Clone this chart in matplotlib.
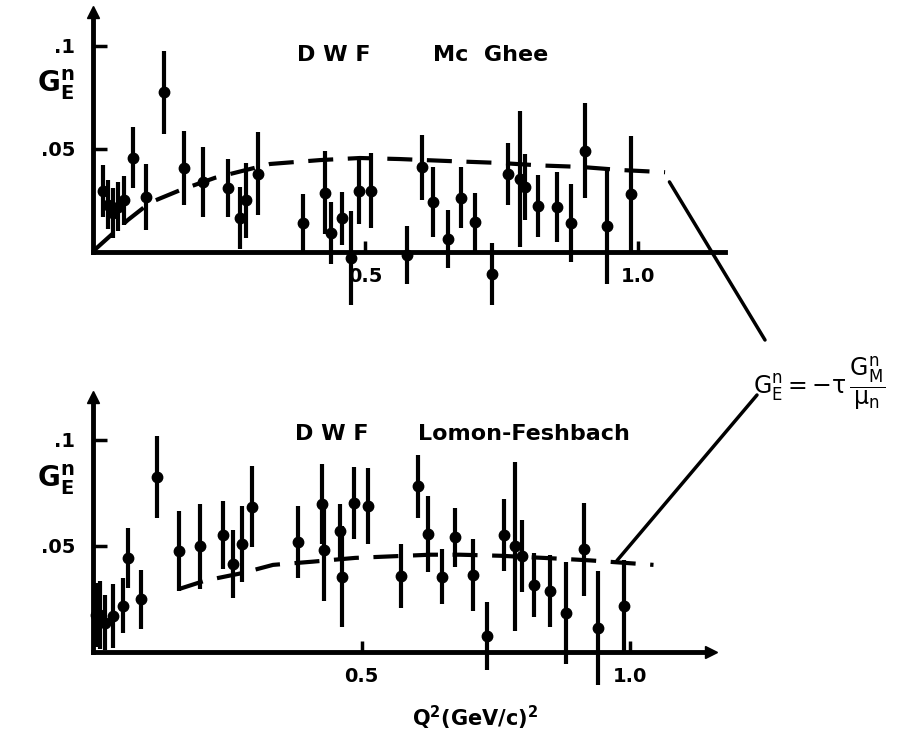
import matplotlib.pyplot as plt
from matplotlib.patches import ConnectionPatch

# DWF - Mc Ghee panel (Q^2, G_E^n, error)
mc_q = [0.019, 0.028, 0.037, 0.046, 0.057, 0.073, 0.098, 0.131, 0.167, 0.202,
        0.248, 0.269, 0.281, 0.302, 0.386, 0.426, 0.437, 0.457, 0.473, 0.488,
        0.510, 0.576, 0.603, 0.624, 0.652, 0.675, 0.702, 0.733, 0.762, 0.783,
        0.793, 0.817, 0.851, 0.878, 0.903, 0.943, 0.987]
mc_g = [0.0296, 0.023, 0.019, 0.022, 0.025, 0.0458, 0.0268, 0.0775, 0.0406, 0.034,
        0.031, 0.0164, 0.025, 0.038, 0.0142, 0.0288, 0.009, 0.0163, -0.003, 0.0298,
        0.0298, -0.0015, 0.041, 0.0244, 0.0062, 0.0264, 0.0144, -0.0108, 0.0377, 0.0353,
        0.0317, 0.0223, 0.022, 0.0142, 0.0492, 0.0126, 0.0282]
mc_err = [0.0125, 0.012, 0.012, 0.012, 0.012, 0.015, 0.016, 0.020, 0.018, 0.017,
          0.014, 0.015, 0.018, 0.020, 0.014, 0.020, 0.015, 0.013, 0.023, 0.016,
          0.018, 0.014, 0.016, 0.017, 0.014, 0.015, 0.014, 0.015, 0.015, 0.033,
          0.016, 0.015, 0.017, 0.019, 0.023, 0.028, 0.028]
mc_curve_q = [0.003, 0.064, 0.105, 0.160, 0.224, 0.325, 0.417, 0.490, 0.563,
              0.655, 0.747, 0.820, 0.894, 0.967, 1.050]
mc_curve_g = [0.001, 0.0155, 0.024, 0.030, 0.036, 0.0427, 0.0446, 0.0456, 0.0451,
              0.0441, 0.0432, 0.042, 0.0413, 0.0398, 0.0387]

# DWF - Lomon-Feshbach panel
lf_q = [0.005, 0.013, 0.022, 0.038, 0.055, 0.066, 0.089, 0.120, 0.160, 0.199,
        0.241, 0.261, 0.277, 0.296, 0.381, 0.427, 0.430, 0.459, 0.464, 0.485,
        0.512, 0.573, 0.604, 0.623, 0.650, 0.674, 0.708, 0.733, 0.764, 0.785,
        0.799, 0.820, 0.850, 0.880, 0.913, 0.940, 0.988]
lf_g = [0.0175, 0.0175, 0.0137, 0.017, 0.0217, 0.0442, 0.0248, 0.0824, 0.0476, 0.0497,
        0.0552, 0.0415, 0.051, 0.0685, 0.052, 0.0698, 0.0478, 0.0568, 0.0355, 0.0704,
        0.0689, 0.0358, 0.078, 0.0557, 0.0355, 0.054, 0.0363, 0.0075, 0.0552, 0.0497,
        0.0453, 0.0316, 0.0285, 0.0183, 0.0484, 0.0112, 0.0214]
lf_err = [0.015, 0.016, 0.013, 0.015, 0.013, 0.014, 0.014, 0.0195, 0.019, 0.020,
          0.016, 0.016, 0.018, 0.019, 0.017, 0.019, 0.024, 0.013, 0.024, 0.017,
          0.018, 0.015, 0.015, 0.018, 0.013, 0.014, 0.017, 0.016, 0.017, 0.040,
          0.017, 0.015, 0.017, 0.024, 0.022, 0.027, 0.022]
lf_curve_q = [0.160, 0.209, 0.277, 0.335, 0.408, 0.488, 0.553, 0.628, 0.683,
              0.758, 0.870, 0.926, 0.981, 1.043]
lf_curve_g = [0.0296, 0.0336, 0.0371, 0.041, 0.0425, 0.0443, 0.045, 0.0458, 0.0458,
              0.0453, 0.0439, 0.0431, 0.0421, 0.041]

W, H = 898, 734
fig = plt.figure(figsize=(W / 100, H / 100), dpi=100)
plt.rcParams['mathtext.fontset'] = 'dejavusans'
plt.rcParams['mathtext.default'] = 'regular'


def px(x, y):
    return x / W, 1 - y / H


def setup(ax, xmax, ymax, arrow_x):
    ax.set_xlim(0, xmax)
    ax.set_ylim(-0.035, ymax)
    for s in ['top', 'right']:
        ax.spines[s].set_visible(False)
    ax.spines['bottom'].set_position(('data', 0))
    ax.spines['left'].set_position(('data', 0))
    ax.spines['bottom'].set_bounds(0, xmax)
    ax.spines['left'].set_bounds(0, ymax)
    for s in ['bottom', 'left']:
        ax.spines[s].set_linewidth(3.5)
    ax.patch.set_alpha(0)
    ax.set_xticks([0.5, 1.0])
    ax.set_xticklabels(['0.5', '1.0'], fontweight='bold')
    ax.set_yticks([0.05, 0.1])
    ax.set_yticklabels(['.05', '.1'], fontweight='bold')
    ax.tick_params(axis='x', direction='in', length=8, width=2.5, labelsize=14, pad=11)
    ax.tick_params(axis='y', direction='in', length=10, width=2.5, labelsize=14, pad=13)
    ax.plot(0, 1, '^', color='black', ms=9, transform=ax.get_xaxis_transform(), clip_on=False)
    if arrow_x:
        ax.plot(1, 0, '>', color='black', ms=9, transform=ax.get_yaxis_transform(), clip_on=False)


# top panel
ax1 = fig.add_axes([93 / W, 1 - 324 / H, 632 / W, 312 / H])
setup(ax1, 1.16, 0.1165, False)
ax1.errorbar(mc_q, mc_g, yerr=mc_err, fmt='o', color='black', ms=7.5,
             elinewidth=3, capsize=0, clip_on=False)
ax1.plot(mc_curve_q, mc_curve_g, color='black', lw=3, linestyle=(0, (6, 3.5)))

# bottom panel
ax2 = fig.add_axes([93 / W, 1 - 726 / H, 618 / W, 328.6 / H])
setup(ax2, 1.15, 0.12, True)
ax2.errorbar(lf_q, lf_g, yerr=lf_err, fmt='o', color='black', ms=7.5,
             elinewidth=3, capsize=0, clip_on=False)
ax2.plot(lf_curve_q, lf_curve_g, color='black', lw=3, linestyle=(0, (6, 3.5)))

# labels
fig.text(*px(56, 85), '$G_E^n$', fontsize=20, ha='center', va='center', fontweight='bold')
fig.text(*px(56, 480), '$G_E^n$', fontsize=20, ha='center', va='center', fontweight='bold')
fig.text(*px(334, 55), 'D W F', fontsize=16, fontweight='bold', ha='center', va='center')
fig.text(*px(433, 55), 'Mc  Ghee', fontsize=16, fontweight='bold', ha='left', va='center')
fig.text(*px(332, 434), 'D W F', fontsize=16, fontweight='bold', ha='center', va='center')
fig.text(*px(418, 434), 'Lomon-Feshbach', fontsize=16, fontweight='bold', ha='left', va='center')
fig.text(*px(475, 718), 'Q$^2$(GeV/c)$^2$', fontsize=15, fontweight='bold', ha='center', va='center')
fig.text(*px(753, 383), r'$G_E^n = -\tau\,\dfrac{G_M^n}{\mu_n}$', fontsize=17,
         ha='left', va='center')

# connector lines to the formula
con1 = ConnectionPatch(xyA=(1.058, 0.034), coordsA='data', axesA=ax1,
                       xyB=px(765, 340), coordsB='figure fraction', color='black', lw=2.5)
con2 = ConnectionPatch(xyA=(0.975, 0.043), coordsA='data', axesA=ax2,
                       xyB=px(757, 395), coordsB='figure fraction', color='black', lw=2.5)
fig.add_artist(con1)
fig.add_artist(con2)

plt.savefig('out.png', dpi=100)
plt.close()
